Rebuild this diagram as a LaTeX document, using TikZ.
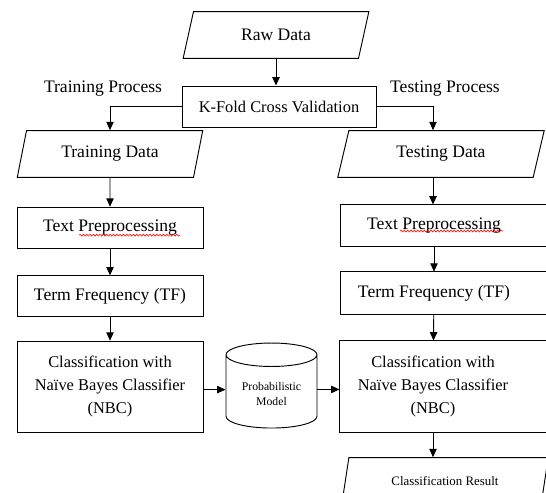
\documentclass[tikz,border=0pt]{standalone}
\usepackage{fontspec}
\setmainfont{Liberation Serif}
\usepackage{tikz}
\usetikzlibrary{positioning,shapes.geometric,arrows.meta,decorations.pathmorphing}
\tikzset{
	procbox/.style={draw,rectangle,line width=0.8pt,minimum width=5.58cm,minimum height=1.23cm,align=center},
	databox/.style={draw,trapezium,trapezium left angle=76,trapezium right angle=104,trapezium stretches=true,line width=0.8pt,minimum width=5.58cm,minimum height=1.4cm},
	flowArrow/.style={line width=0.8pt,-{Triangle[length=0.25cm,width=0.22cm]}},
	redWave/.style={red,line width=0.5pt,decorate,decoration={snake,segment length=0.1cm,amplitude=0.03cm}},
	nbcText/.style={font=\fontsize{14}{19.5}\selectfont}
}

\begin{document}
\begin{tikzpicture}[x=0.03cm,y=-0.03cm,node distance=2.2cm,font=\fontsize{15}{17}\selectfont]
		\useasboundingbox (0,0) rectangle (546,493);
		\clip (0,0) rectangle (546,493);
		\node[databox] (raw) at (276,35) {Raw Data};								% Rohdaten
		\node[procbox,minimum width=5.82cm,font=\fontsize{14}{16}\selectfont] (kfold) at (279,106.5) {K-Fold Cross Validation};
		\node (trainlbl) at (103,89) {Training Process};
		\node (testlbl) at (445,89) {Testing Process};
		\node[databox] (traindata) at (110,154) {Training Data};					% linke Spalte
		\node[procbox,below of=traindata,node distance=2.21cm] (prepL) {Text Preprocessing};
		\node[procbox,below of=prepL,node distance=2.06cm] (tfL) {Term Frequency (TF)};
		\node[procbox,nbcText,below of=tfL,node distance=2.71cm,minimum height=2.73cm] (clsL) {Classification with\\Naïve Bayes Classifier\\(NBC)};
		\node[databox,minimum width=6.2cm] (testdata) at (441,154) {Testing Data};	% rechte Spalte
		\node[procbox,draw=none] (prepR) at (434,225.5) {Text Preprocessing};
		\node[procbox,draw=none,below of=prepR,node distance=2.03cm,minimum height=1.26cm] (tfR) {Term Frequency (TF)};
		\node[procbox,nbcText,draw=none,minimum height=2.73cm] (clsR) at (433,386.5) {Classification with\\Naïve Bayes Classifier\\(NBC)};
		\node[draw,cylinder,shape border rotate=90,aspect=0.35,minimum width=2.73cm,minimum height=2.55cm,line width=0.8pt,align=center,font=\fontsize{10}{12.5}\selectfont] (model) at (271.5,394) {Probabilistic\\Model};
		\node[databox,minimum width=6.2cm,font=\fontsize{11}{13}\selectfont] (result) at (445,481) {Classification Result};
		\coordinate (colR) at (433,0);										% x der rechten Pfeile
		
		% rechte Kaesten laufen ueber den Rand
		\draw[line width=0.8pt] (prepR.north west) rectangle ([xshift=1cm]prepR.south east);
		\draw[line width=0.8pt] (tfR.north west) rectangle ([xshift=1cm]tfR.south east);
		\draw[line width=0.8pt] (clsR.north west) rectangle ([xshift=1cm]clsR.south east);
		
		% Rechtschreib-Wellenlinien unter "Preprocessing"
		\draw[redWave] ([shift={(-31,7.5)}]prepL.center) -- ([shift={(70,7.5)}]prepL.center);
		\draw[redWave] ([shift={(-34,5.5)}]prepR.center) -- ([shift={(69,5.5)}]prepR.center);
		
		% Pfeile
		\draw[flowArrow] (raw.south) -- (raw.south |- kfold.north);
		\draw[flowArrow] (kfold.west) -| (traindata.north);
		\draw[flowArrow] (kfold.east) -| (colR |- testdata.north);
		\draw[flowArrow] (traindata) -- (prepL);
		\draw[flowArrow] (prepL) -- (tfL);
		\draw[flowArrow] (tfL) -- (clsL);
		\draw[flowArrow] ([yshift=-2.5]clsL.east) -- ([yshift=-2.5]clsL.east -| model.west);
		\draw[flowArrow] (colR |- testdata.south) -- (colR |- prepR.north);
		\draw[flowArrow] (prepR) -- (tfR);
		\draw[flowArrow] (tfR) -- (clsR);
		\draw[flowArrow] ([yshift=-2.5]clsR.west -| model.east) -- ([yshift=-2.5]clsR.west);
		\draw[flowArrow] (clsR) -- (clsR.south |- result.north);
\end{tikzpicture}
\end{document}
